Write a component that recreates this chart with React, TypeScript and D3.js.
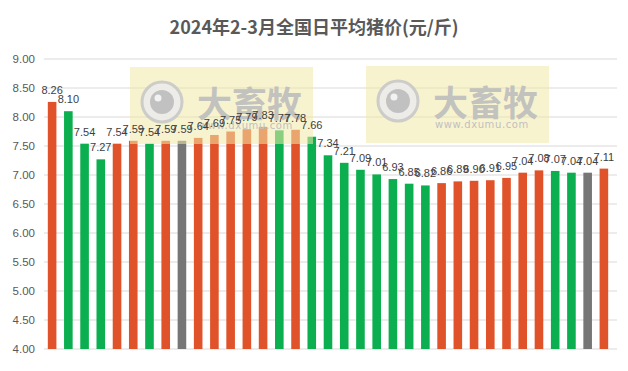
import React from "react";
import * as d3 from "d3";

const TITLE = "2024年2-3月全国日平均猪价(元/斤)";
const prices = [
  8.26, 8.1, 7.54, 7.27, 7.54, 7.59, 7.54, 7.59, 7.59, 7.64, 7.69, 7.75,
  7.79, 7.83, 7.77, 7.78, 7.66, 7.34, 7.21, 7.09, 7.01, 6.93, 6.85, 6.82,
  6.86, 6.89, 6.9, 6.91, 6.95, 7.04, 7.08, 7.07, 7.04, 7.04, 7.11,
];
const trends = [
  "up", "down", "down", "down", "up", "up", "down", "up", "flat", "up", "up", "up",
  "up", "up", "down", "up", "down", "down", "down", "down", "down", "down", "down", "down",
  "up", "up", "up", "up", "up", "up", "up", "down", "down", "flat", "up",
];
const yTicks = [4.0, 4.5, 5.0, 5.5, 6.0, 6.5, 7.0, 7.5, 8.0, 8.5, 9.0];
const trendColors: Record<string, string> = {
  up: "#E0532A",
  down: "#0BAF4F",
  flat: "#767676",
};
const watermarks = [
  { x: 130, y: 67 },
  { x: 366, y: 66 },
];

const W = 628;
const H = 371;

export default function App() {
  const idx = prices.map((_, i) => i);
  const x = d3
    .scaleBand<number>()
    .domain(idx)
    .range([44, 612])
    .paddingInner(0.47)
    .paddingOuter(0.235);
  const y = d3.scaleLinear().domain([4, 9]).range([349, 59]);
  const fmt = d3.format(".2f");

  return (
    <svg
      width={W}
      height={H}
      style={{ position: "absolute", left: 0, top: 0, background: "#fff" }}
    >
      <text
        x={314}
        y={34}
        textAnchor="middle"
        fontFamily="'Noto Sans CJK SC', sans-serif"
        fontWeight="bold"
        fontSize={18}
        fill="#595959"
      >
        {TITLE}
      </text>
      {yTicks.map((t) => (
        <g key={t}>
          <line
            x1={44}
            x2={617}
            y1={y(t)}
            y2={y(t)}
            stroke="#d9d9d9"
            strokeWidth={1}
          />
          <text
            x={35}
            y={y(t) + 4}
            textAnchor="end"
            fontFamily="'Liberation Sans', Arial, sans-serif"
            fontSize={11.5}
            fill="#595959"
          >
            {fmt(t)}
          </text>
        </g>
      ))}
      {prices.map((v, i) => (
        <rect
          key={i}
          x={x(i)}
          width={x.bandwidth()}
          y={y(v)}
          height={y(4) - y(v)}
          fill={trendColors[trends[i]]}
        />
      ))}
      {watermarks.map((w, k) => (
        <g key={k} transform={`translate(${w.x},${w.y})`}>
          <rect width={183} height={77} fill="#f3e9a8" opacity={0.55} />
          <circle cx={32} cy={35} r={20} fill="#ececec" stroke="#c8c8c8" strokeWidth={3} opacity={0.9} />
          <circle cx={32} cy={35} r={12} fill="#bcbcbc" opacity={0.9} />
          <circle cx={28} cy={31} r={3.5} fill="#f2f2f2" />
          <text
            x={67}
            y={50}
            fontFamily="'Noto Sans CJK SC', sans-serif"
            fontWeight="bold"
            fontSize={35}
            fill="#bdbdbd"
            opacity={0.9}
            letterSpacing={0}
          >
            大畜牧
          </text>
          <text
            x={69}
            y={62}
            fontFamily="'DejaVu Sans', sans-serif"
            fontSize={10}
            fill="#c0c0c0"
            letterSpacing={0.6}
          >
            www.dxumu.com
          </text>
        </g>
      ))}
      {prices.map((v, i) => (
        <text
          key={i}
          x={(x(i) as number) + x.bandwidth() / 2}
          y={y(v) - 8}
          textAnchor="middle"
          fontFamily="'Liberation Sans', Arial, sans-serif"
          fontSize={11}
          fill="#404040"
        >
          {fmt(v)}
        </text>
      ))}
    </svg>
  );
}
